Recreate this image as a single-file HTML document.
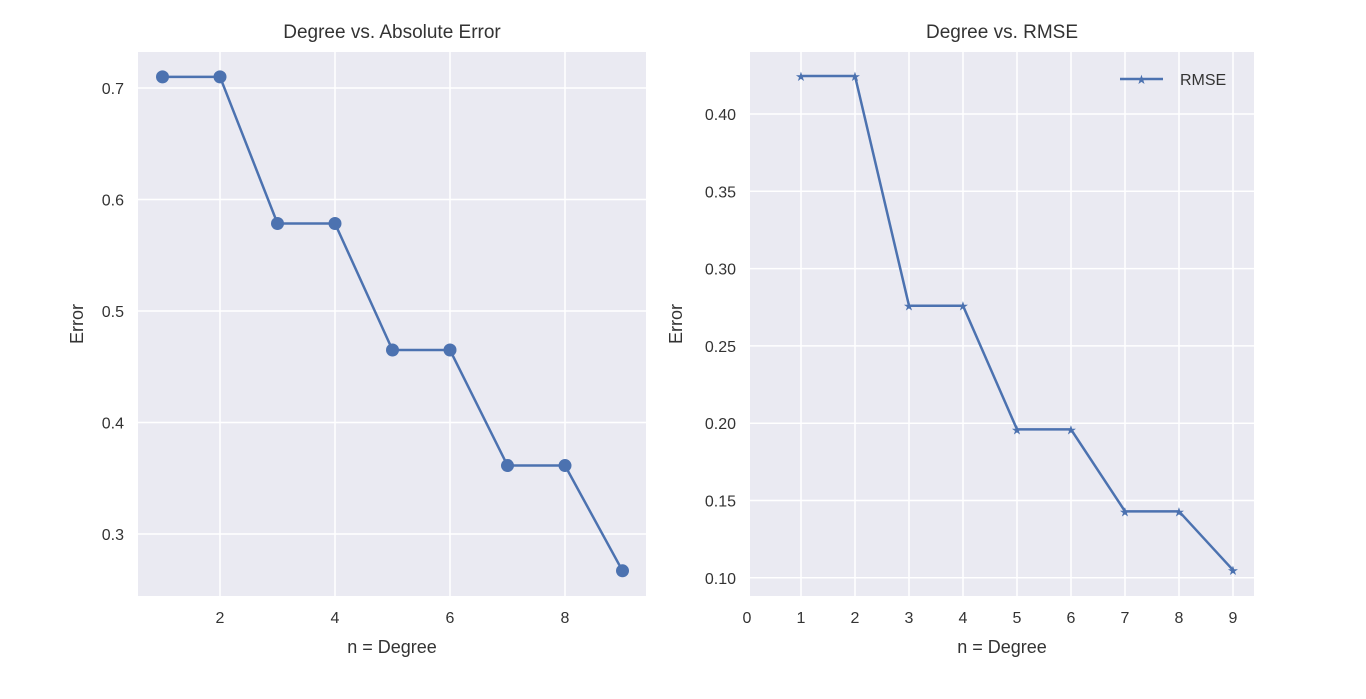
<!DOCTYPE html>
<html><head><meta charset="utf-8"><style>
body{margin:0;background:#fff;width:1366px;height:694px;overflow:hidden}
svg{font-family:"Liberation Sans",Arial,sans-serif}
text{fill:#333}
</style></head><body>
<svg id="c" width="1366" height="694"></svg>
<script>
const degrees=[1,2,3,4,5,6,7,8,9];
const absErr=[0.71,0.71,0.5785,0.5785,0.465,0.465,0.3614,0.3614,0.267];
const rmse=[0.4246,0.4246,0.276,0.276,0.196,0.196,0.143,0.143,0.105];
const leftXTicks=[2,4,6,8];
const leftYTicks=[0.3,0.4,0.5,0.6,0.7];
const rightXTicks=[0,1,2,3,4,5,6,7,8,9];
const rightYTicks=[0.10,0.15,0.20,0.25,0.30,0.35,0.40];
const NS="http://www.w3.org/2000/svg";
const svg=document.getElementById('c');
function mk(tag,attrs,parent){const e=document.createElementNS(NS,tag);for(const k in attrs)e.setAttribute(k,attrs[k]);(parent||svg).appendChild(e);return e;}
function panel(o){
  const g=mk('g',{});
  
  
  const bg=mk('rect',{x:o.x0,y:52,width:o.x1-o.x0,height:544,fill:'#eaeaf2'},g);
  
  
  o.xt.forEach(t=>{const x=o.sx(t);
    if(x>=o.x0)mk('line',{x1:x,x2:x,y1:52,y2:596,stroke:'#fff','stroke-width':1.5},g);
    const l=mk('text',{x:x,y:623,'font-size':16,'text-anchor':'middle'},g);l.textContent=t;
    
    });
  o.yt.forEach(t=>{const y=o.sy(t);
    mk('line',{x1:o.x0,x2:o.x1,y1:y,y2:y,stroke:'#fff','stroke-width':1.5},g);
    const l=mk('text',{x:o.x0-14,y:y+6,'font-size':16,'text-anchor':'end'},g);l.textContent=o.fmt(t);
    
    });
  const pts=degrees.map((d,i)=>o.sx(d)+','+o.sy(o.vals[i])).join(' ');
  const ln=mk('polyline',{points:pts,fill:'none',stroke:'#4c72b0','stroke-width':2.5},g);
  
  
  degrees.forEach((d,i)=>{const cx=o.sx(d),cy=o.sy(o.vals[i]);
    let m;
    if(o.marker==='o')m=mk('circle',{cx:cx,cy:cy,r:6.5,fill:'#4c72b0'},g);
    else m=mk('text',{x:cx,y:cy+5,'font-size':13,'text-anchor':'middle',style:'fill:#4c72b0'},g),m.textContent='★';
    
    });
  const t=mk('text',{x:(o.x0+o.x1)/2,y:38,'font-size':19,'text-anchor':'middle'},g);t.textContent=o.title;
  
  
  const xl=mk('text',{x:(o.x0+o.x1)/2,y:653,'font-size':18,'text-anchor':'middle'},g);xl.textContent='n = Degree';
  
  
  const yx=o.ytx;
  const yl=mk('text',{x:yx,y:324,'font-size':18,'text-anchor':'middle',transform:`rotate(-90 ${yx} 324)`},g);yl.textContent='Error';
  
  
}
panel({name:'abs-error-chart',x0:138,x1:646,ytx:83,sx:d=>162.5+(d-1)*57.5,sy:v=>88+(0.7-v)*1115,
  xt:leftXTicks,yt:leftYTicks,vals:absErr,marker:'o',fmt:v=>v.toFixed(1),title:'Degree vs. Absolute Error'});
panel({name:'rmse-chart',x0:750,x1:1254,ytx:682,sx:d=>747+d*54,sy:v=>114+(0.4-v)*1546,
  xt:rightXTicks,yt:rightYTicks,vals:rmse,marker:'*',fmt:v=>v.toFixed(2),title:'Degree vs. RMSE'});
const lg=mk('g',{});


mk('line',{x1:1120,x2:1163,y1:79,y2:79,stroke:'#4c72b0','stroke-width':2.5},lg);
const ls=mk('text',{x:1141.5,y:84,'font-size':13,'text-anchor':'middle',style:'fill:#4c72b0'},lg);ls.textContent='★';
const lt=mk('text',{x:1180,y:85,'font-size':16},lg);lt.textContent='RMSE';


</script>
</body></html>
